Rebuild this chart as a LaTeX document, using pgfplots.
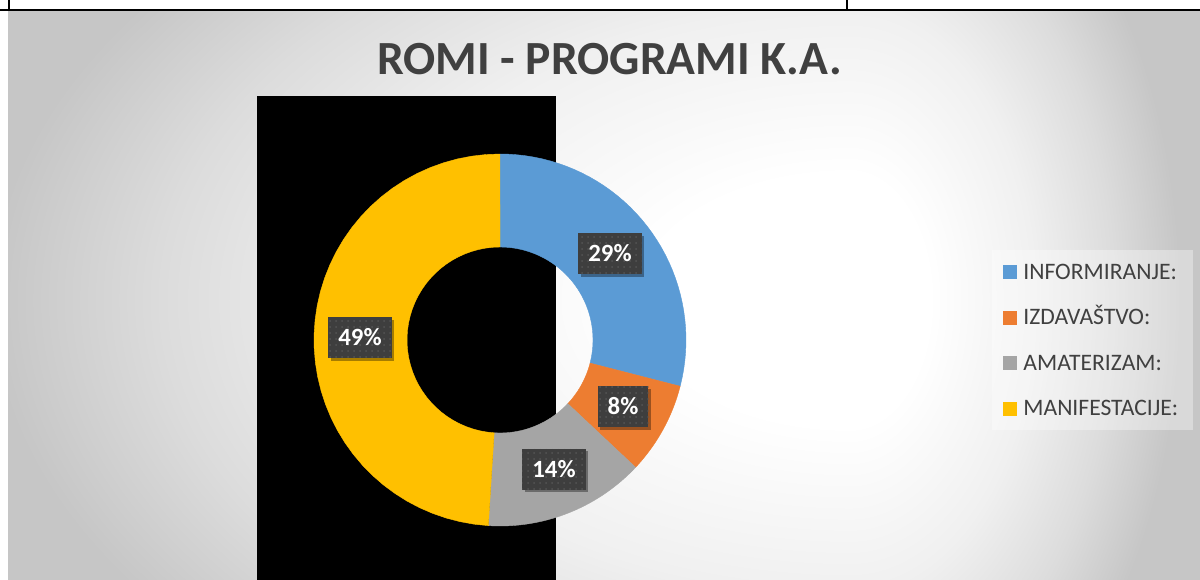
\documentclass[border=0pt]{standalone}
\usepackage{fontspec}
\setmainfont{Carlito}
\usepackage{pgfplots}
\pgfplotsset{compat=1.18}
\usetikzlibrary{patterns,shadows}
\definecolor{cBlue}{HTML}{5B9BD5}
\definecolor{cOrange}{HTML}{ED7D31}
\definecolor{cGray}{HTML}{A5A5A5}
\definecolor{cGold}{HTML}{FFC000}
\definecolor{txt}{HTML}{404040}
\definecolor{lblBg}{HTML}{3E3E3E}
\definecolor{lblDot}{HTML}{555555}
\definecolor{bgD}{RGB}{240,240,240}
\definecolor{bgJ}{RGB}{220,220,220}
\definecolor{bgK}{RGB}{198,198,198}
\pgfdeclareradialshading{bgrad}{\pgfpointorigin}{color(0bp)=(white); color(6bp)=(white); color(14bp)=(bgD); color(20bp)=(bgJ); color(25bp)=(bgK); color(50bp)=(bgK)}
% donut slice: colour, start %, end %
\newcommand{\slice}[3]{%
  \addplot[fill=#1, draw=#1, line width=0.2pt, no markers, samples at={0,...,81}, variable=\t]
    ({500+(\t<40.5 ? 186 : 93)*cos(90-3.6*(\t<40.5 ? #2+(#3-#2)*\t/40 : #3-(#3-#2)*(\t-41)/40))},
     {239+(\t<40.5 ? 186 : 93)*sin(90-3.6*(\t<40.5 ? #2+(#3-#2)*\t/40 : #3-(#3-#2)*(\t-41)/40))}) -- cycle;
}
\tikzset{lbl/.style={fill=lblBg, text=white, font=\fontsize{12.4}{14}\selectfont\bfseries,
  inner xsep=5pt, inner ysep=0pt, minimum height=20.5pt,
  drop shadow={shadow xshift=1.3pt, shadow yshift=-1.3pt, opacity=0.35, fill=black},
  postaction={pattern=dots, pattern color=lblDot}}}
\begin{document}
\begin{tikzpicture}
\begin{axis}[
  hide axis, scale only axis,
  width=600pt, height=289.5pt,
  xmin=0, xmax=1200, ymin=0, ymax=579,
  clip=true,
]
% page and background
\fill[white] (axis cs:-10,-10) rectangle (axis cs:1210,589);
\fill[bgK] (axis cs:8,-10) rectangle (axis cs:1210,568);
\begin{scope}
  \clip (axis cs:8,-10) rectangle (axis cs:850.5,568);
  \shade[shading=bgrad] (axis cs:850,279) ellipse [x radius=430pt, y radius=260pt];
\end{scope}
\begin{scope}
  \clip (axis cs:850,-10) rectangle (axis cs:1210,568);
  \shade[shading=bgrad] (axis cs:850,279) ellipse [x radius=165pt, y radius=260pt];
\end{scope}
% table frame at the top
\draw[black, line width=1pt] (axis cs:-10,569) -- (axis cs:1210,569);
\draw[black, line width=1pt] (axis cs:9,569) -- (axis cs:9,589);
\draw[black, line width=1pt] (axis cs:847,569) -- (axis cs:847,589);
% black rectangle
\fill[black] (axis cs:257,-10) rectangle (axis cs:556,483);
% donut
\slice{cBlue}{0}{29}
\slice{cOrange}{29}{37}
\slice{cGray}{37}{51}
\slice{cGold}{51}{100}
% title
\node[anchor=base, text=txt, font=\fontsize{23.8}{28}\selectfont\bfseries] at (axis cs:609.5,504) {ROMI - PROGRAMI K.A.};
% data labels
\node[lbl] at (axis cs:610,325.5) {29\%};
\node[lbl] at (axis cs:623,172.5) {8\%};
\node[lbl] at (axis cs:554,110) {14\%};
\node[lbl] at (axis cs:360,241.5) {49\%};
% legend
\fill[white, opacity=0.35] (axis cs:992,149) rectangle (axis cs:1193,329);
\fill[cBlue]   (axis cs:1003,299.5) rectangle (axis cs:1017,313.5);
\fill[cOrange] (axis cs:1003,254) rectangle (axis cs:1017,268);
\fill[cGray]   (axis cs:1003,208.5) rectangle (axis cs:1017,222.5);
\fill[cGold]   (axis cs:1003,163) rectangle (axis cs:1017,177);
\begin{scope}[every node/.style={anchor=base west, text=txt, inner sep=0pt, font=\fontsize{11.8}{14}\selectfont}]
\node at (axis cs:1023,299.5) {INFORMIRANJE:};
\node at (axis cs:1023,254) {IZDAVAŠTVO:};
\node at (axis cs:1023,208.5) {AMATERIZAM:};
\node at (axis cs:1023,163) {MANIFESTACIJE:};
\end{scope}
\end{axis}
\end{tikzpicture}
\end{document}
